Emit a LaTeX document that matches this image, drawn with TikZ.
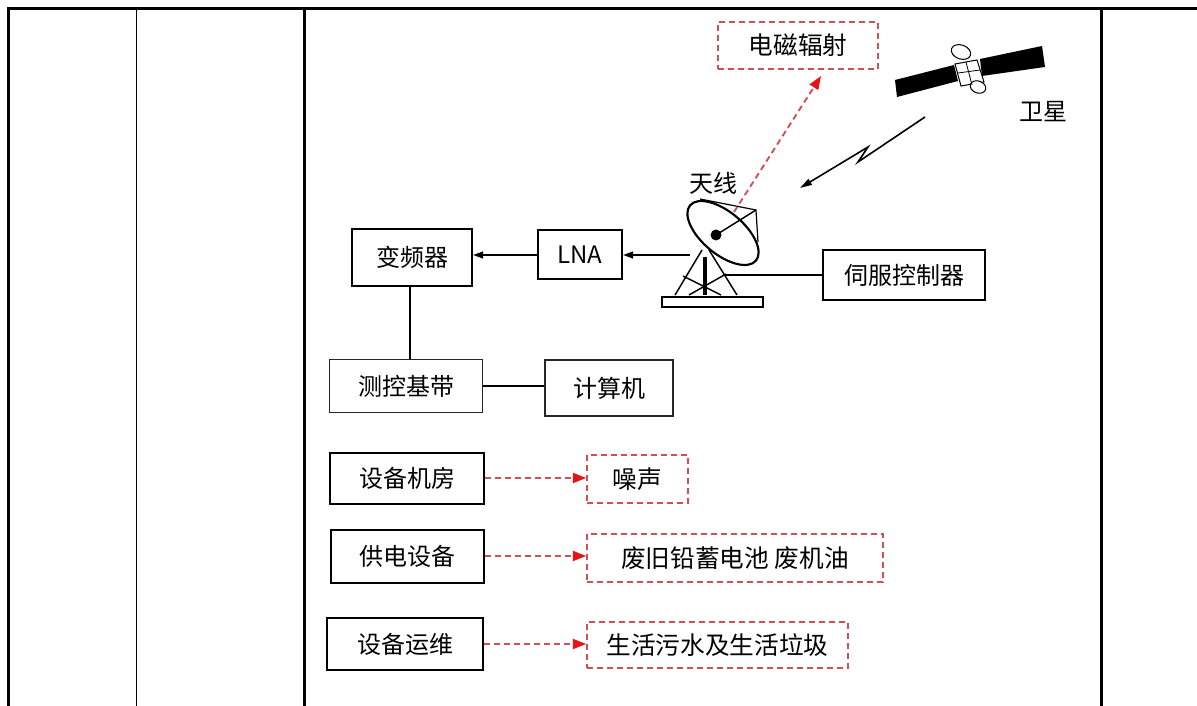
\documentclass[tikz,border=0pt]{standalone}
\usepackage{fontspec}
\setmainfont{Noto Sans CJK SC}
\usepackage{tikz}
\usetikzlibrary{positioning,arrows.meta}

\definecolor{dashred}{RGB}{205,80,85}
\definecolor{tipred}{RGB}{230,20,25}

\tikzset{
  box/.style={draw, line width=1.5pt, minimum width=#1, inner sep=0.75pt, font=\fontsize{18}{21}\selectfont},
  box/.default=90pt,
  thinbox/.style={draw=black!85, line width=1.15pt, inner sep=0.75pt, font=\fontsize{18}{21}\selectfont},
  redbox/.style={draw=dashred, line width=1.2pt, dash pattern=on 4.5pt off 3pt, inner sep=0.75pt, font=\fontsize{18.5}{21}\selectfont},
  arr/.style={line width=1.3pt, -{Triangle[length=7.5pt,width=5pt]}},
  redarr/.style={draw=dashred, line width=1.4pt, dash pattern=on 4.5pt off 3pt, -{Triangle[length=10pt,width=7.5pt,color=tipred]}},
  tabline/.style={line width=2.25pt}
}

\begin{document}
\begin{tikzpicture}[x=0.75pt,y=0.75pt,yscale=-1,xscale=1]
\useasboundingbox (0,0) rectangle (1197,706);

%Table lines
\draw [tabline] (7,9) -- (1197,9) ;
\draw [tabline] (8,9) -- (8,706) ;
\draw [line width=0.75pt] (136,9) -- (136,706) ;
\draw [tabline] (304,9) -- (304,706) ;
\draw [tabline] (1101,9) -- (1101,706) ;

%Blocks of the receiving chain
\node [box, minimum height=42.75pt] (bpq) at (412,257.5) {变频器};
\node [box=63pt, minimum height=36.75pt] (lna) at (580,255) {LNA};
\node [thinbox, minimum width=114.75pt, minimum height=39.75pt] (ckjd) at (406,386) {测控基带\hspace{18pt}};
\node [thinbox, minimum width=96pt, minimum height=42pt] (jsj) at (609,388) {计算机};
\node [box=121.5pt, minimum height=37.5pt] (sfkz) at (904,275) {伺服控制器};
\node [redbox, minimum width=120pt, minimum height=35.25pt] (dcfs) at (798,45.5) {电磁辐射};

%Blocks of the sources
\node [box=115.5pt, minimum height=38.25pt] (sbjf) at (407,478) {设备机房};
\node [redbox, minimum width=75.75pt, minimum height=36pt] (zs) at (637.5,479) {噪声};
\node [box=114.75pt, minimum height=39.75pt] (gdsb) at (407.5,556) {供电设备};
\node [redbox, minimum width=222pt, minimum height=36pt] (fjdc) at (735,558) {废旧铅蓄电池 废机油};
\node [box=117pt, minimum height=39pt] (sbyw) at (405,644) {设备运维};
\node [redbox, minimum width=195.75pt, minimum height=34.5pt] (shws) at (717.5,645) {生活污水及生活垃圾};

% Text Node
\node [font=\fontsize{18}{21}\selectfont] (txtx) at (713,183) {天线};
% Text Node
\node [font=\fontsize{18}{21}\selectfont] (wx) at (1043,112) {卫星};

%Shape: Antenna dish
\draw [line width=1.6pt] (723,233) ellipse [x radius=43, y radius=21, rotate=40] ;
\draw [line width=0.9pt] (700,199) -- (756,210) -- (758,242) ;
\coordinate (feed) at (756,210) ;
\fill (716,235) circle [radius=5.5] ;
\draw [line width=1.1pt] (716,235) -- (feed) ;
%Shape: Antenna stand
\draw [line width=3.2pt] (705,257) -- (705,295) ;
\draw [line width=1.1pt] (702,250) -- (675,295) ;
\draw [line width=1.1pt] (709,250) -- (737,295) ;
\draw [line width=1.1pt] (683,276) -- (721,295) ;
\draw [line width=1.1pt] (689,295) -- (726,274) ;
\draw [line width=0.9pt] (662,297) rectangle (763,307) ;
\coordinate (antL) at (690,255) ;
\coordinate (antR) at (723,275) ;

%Shape: Satellite
\fill (895,80) -- (954,65) -- (958,81) -- (897,97) -- cycle ;
\fill (980,59) -- (1042,46) -- (1045,67) -- (982,76) -- cycle ;
\draw [fill=white, line width=0.75pt] (955,64) -- (977,60) -- (984,82) -- (961,86) -- cycle ;
\draw [fill=white, line width=0.75pt] (961,52) ellipse [x radius=10, y radius=7, rotate=20] ;
\draw [fill=white, line width=0.75pt] (978,87) ellipse [x radius=8, y radius=6, rotate=20] ;
\draw [line width=0.6pt] (958,73) -- (980,70) (966,62) -- (972,85) ;

%Lightning
\coordinate (lt1) at (925,117) ;
\coordinate (lt2) at (858,162) ;
\coordinate (lt3) at (868,147) ;
\coordinate (lt4) at (800,188) ;
\draw [line width=1.2pt, -{Triangle[length=9pt,width=5pt]}] (lt1) -- (lt2) -- (lt3) -- (lt4) ;

%Connectors
\draw [arr] (antL) -- (lna.east) ;
\draw [arr] (lna.west) -- (lna.west -| bpq.east) ;
\draw [line width=1.5pt] (bpq.south) ++(-2,0) coordinate (bpqs) -- (bpqs |- ckjd.north) ;
\draw [line width=1.5pt] (ckjd.east) -- (ckjd.east -| jsj.west) ;
\draw [line width=1.2pt] (antR) -- (antR -| sfkz.west) ;
\coordinate (emtip) at (821,76) ;
\draw [redarr] (feed) ++(-22,2) coordinate (feedr) (feedr) -- (emtip) ;
\draw [redarr] (sbjf.east) -- (sbjf.east -| zs.west) ;
\draw [redarr] (gdsb.east) -- (gdsb.east -| fjdc.west) ;
\draw [redarr] (sbyw.east) -- (sbyw.east -| shws.west) ;
\end{tikzpicture}
\end{document}
